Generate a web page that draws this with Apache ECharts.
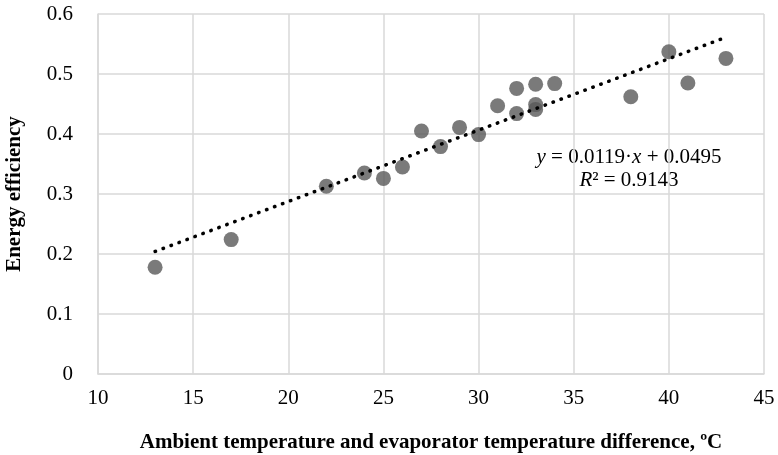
<!DOCTYPE html>
<html lang="en">
  <head>
    <meta charset="UTF-8" />
    <title>Energy efficiency</title>
    <script src="https://cdn.jsdelivr.net/npm/echarts@6/dist/echarts.min.js"></script>
    <style>
      html, body { margin: 0; padding: 0; background: #fff; }
    </style>
  </head>
  <body>
    <div id="main" style="width: 778px; height: 455px"></div>

    <script type="text/javascript">
      // measured points (temperature difference, energy efficiency)
      var tempDiff = [13, 17, 22, 24, 25, 26, 27, 28, 29, 30, 31, 32, 32, 33, 33, 33, 34, 38, 40, 41, 43];
      var efficiency = [0.178, 0.224, 0.313, 0.335, 0.326, 0.345, 0.405, 0.379, 0.411, 0.399, 0.447,
                        0.476, 0.434, 0.483, 0.449, 0.441, 0.484, 0.462, 0.537, 0.485, 0.526];

      // linear trendline as printed on the chart
      var slope = 0.0119;
      var intercept = 0.0495;
      var trendX = [13, 43];

      var xTicks = [10, 15, 20, 25, 30, 35, 40, 45];
      var yTicks = [0, 0.1, 0.2, 0.3, 0.4, 0.5, 0.6];

      var points = [];
      for (var i = 0; i < tempDiff.length; i++) {
        points.push([tempDiff[i], efficiency[i]]);
      }
      var trend = trendX.map(function (x) {
        return [x, slope * x + intercept];
      });

      var font = "'Liberation Serif', 'Times New Roman', serif";
      var myChart = echarts.init(document.getElementById("main"));

      var option = {
        backgroundColor: "#fff",
        animation: false,
        textStyle: { fontFamily: font },
        grid: { left: 98, top: 14, right: 14, bottom: 81, containLabel: false, outerBoundsMode: "none" },
        xAxis: {
          type: "value",
          min: xTicks[0],
          max: xTicks[xTicks.length - 1],
          interval: 5,
          name: "Ambient temperature and evaporator temperature difference, \u00baC",
          nameLocation: "middle",
          nameGap: 58,
          nameTextStyle: { fontFamily: font, fontSize: 21, fontWeight: "bold", color: "#000" },
          axisLine: { show: true, lineStyle: { color: "#d9d9d9", width: 1.5 } },
          axisTick: { show: false },
          axisLabel: { fontFamily: font, fontSize: 21, color: "#000", margin: 14 },
          splitLine: { show: true, lineStyle: { color: "#d9d9d9", width: 1.5 } },
        },
        yAxis: {
          type: "value",
          min: yTicks[0],
          max: yTicks[yTicks.length - 1],
          interval: 0.1,
          name: "Energy efficiency",
          nameLocation: "middle",
          nameGap: 73,
          nameTextStyle: { fontFamily: font, fontSize: 21, fontWeight: "bold", color: "#000" },
          axisLine: { show: true, lineStyle: { color: "#d9d9d9", width: 1.5 } },
          axisTick: { show: false },
          axisLabel: {
            fontFamily: font, fontSize: 21, color: "#000", margin: 25,
            formatter: function (v) { return v === 0 ? "0" : v.toFixed(1); },
          },
          splitLine: { show: true, lineStyle: { color: "#d9d9d9", width: 1.5 } },
        },
        series: [
          {
            name: "Data",
            type: "scatter",
            data: points,
            symbol: "circle",
            symbolSize: 15,
            itemStyle: { color: "#595959" },
            z: 2,
          },
          {
            name: "Trend",
            type: "line",
            data: trend,
            showSymbol: false,
            symbol: "none",
            lineStyle: { color: "#000", width: 3.5, type: [0.5, 8], cap: "round" },
            z: 3,
          },
        ],
        graphic: [
          {
            type: "text",
            x: 629,
            y: 157,
            style: {
              text: "{i|y} = 0.0119\u00b7{i|x} + 0.0495",
              align: "center",
              verticalAlign: "middle",
              fill: "#000",
              font: "21px " + font,
              rich: { i: { fontStyle: "italic", fontFamily: font, fontSize: 21 } },
            },
          },
          {
            type: "text",
            x: 629,
            y: 180,
            style: {
              text: "{i|R}\u00b2 = 0.9143",
              align: "center",
              verticalAlign: "middle",
              fill: "#000",
              font: "21px " + font,
              rich: { i: { fontStyle: "italic", fontFamily: font, fontSize: 21 } },
            },
          },
        ],
      };

      myChart.setOption(option);
    </script>
  </body>
</html>
